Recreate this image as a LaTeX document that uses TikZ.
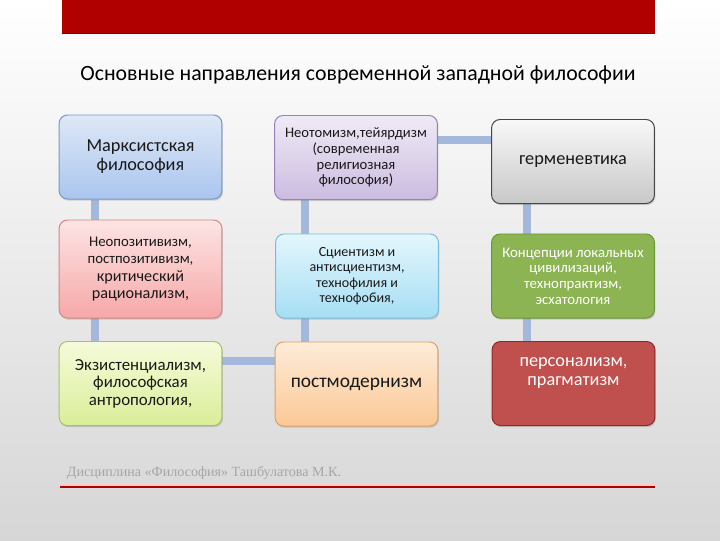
\documentclass[tikz,border=0pt]{standalone}
\usepackage{fontspec}
\setmainfont{Carlito}
\newfontfamily\footfont{Liberation Serif}
\usetikzlibrary{positioning,calc,shadows,backgrounds}
\definecolor{bandred}{RGB}{176,0,0}
\definecolor{linkblue}{RGB}{163,184,218}
\definecolor{bluetop}{RGB}{222,232,247}\definecolor{bluebot}{RGB}{170,197,238}\definecolor{blueline}{RGB}{120,152,200}
\definecolor{pinktop}{RGB}{253,228,228}\definecolor{pinkbot}{RGB}{246,168,168}\definecolor{pinkline}{RGB}{214,132,132}
\definecolor{limetop}{RGB}{245,251,218}\definecolor{limebot}{RGB}{218,238,152}\definecolor{limeline}{RGB}{166,194,100}
\definecolor{lilactop}{RGB}{240,234,246}\definecolor{lilacbot}{RGB}{203,188,224}\definecolor{lilacline}{RGB}{150,130,180}
\definecolor{cyantop}{RGB}{228,246,252}\definecolor{cyanbot}{RGB}{166,222,244}\definecolor{cyanline}{RGB}{120,190,220}
\definecolor{peachtop}{RGB}{254,236,216}\definecolor{peachbot}{RGB}{251,200,150}\definecolor{peachline}{RGB}{222,160,104}
\definecolor{greytop}{RGB}{248,248,248}\definecolor{greybot}{RGB}{200,200,200}\definecolor{greyline}{RGB}{70,70,70}
\definecolor{leaf}{RGB}{140,180,82}\definecolor{leafline}{RGB}{108,150,52}
\definecolor{brick}{RGB}{192,80,77}\definecolor{brickline}{RGB}{140,44,42}
\begin{document}
\begin{tikzpicture}[x=0.025cm,y=-0.025cm,
    box/.style={rounded corners=6pt, draw, line width=0.7pt, align=center,
      minimum width=4.07cm, minimum height=2.1cm, inner sep=2pt, text=black!90,
      drop shadow={opacity=0.3, shadow xshift=0.7pt, shadow yshift=-1.2pt}},
    link/.style={linkblue, line width=5.7pt},
    big/.style={font=\fontsize{13}{13.5}\selectfont},
    small/.style={font=\fontsize{10}{11}\selectfont}]
    \useasboundingbox (0,0) rectangle (720,540);
    \begin{scope}[on background layer]
        \shade[top color=white, middle color=gray!8, bottom color=gray!32] (0,0) rectangle (720,540);
    \end{scope}
    \fill[bandred] (62,0) rectangle (655,34);
    \draw[bandred!70!black, line width=0.8pt] (62,33.5) -- (655,33.5);
    \node (title) at (358,75) {\fontsize{15.5}{18}\selectfont Основные направления современной западной философии};

    \node[box, big, draw=blueline, top color=bluetop, bottom color=bluebot] (marx) at (140.5,157) {Марксистская\\философия};
    \node[box, draw=pinkline, top color=pinktop, bottom color=pinkbot, minimum height=2.45cm] (neopos) at (140.5,269)
        {\fontsize{10.5}{11.5}\selectfont Неопозитивизм,\\ \fontsize{10.5}{14}\selectfont постпозитивизм,\\[1pt]
         \fontsize{11.5}{12}\selectfont критический\\ \fontsize{11.5}{12}\selectfont рационализм,};
    \node[box, draw=limeline, top color=limetop, bottom color=limebot, font=\fontsize{12}{12.5}\selectfont] (exist) at (140.5,383.5)
        {Экзистенциализм,\\философская\\антропология,};

    \node[box, draw=lilacline, top color=lilactop, bottom color=lilacbot, font=\fontsize{10.4}{11.2}\selectfont] (neotom) at (356,157.5)
        {Неотомизм,тейярдизм\\(современная\\религиозная\\философия)};
    \node[box, small, draw=cyanline, top color=cyantop, bottom color=cyanbot] (scient) at (357,276)
        {Сциентизм и\\антисциентизм,\\технофилия и\\технофобия,};
    \node[box, draw=peachline, top color=peachtop, bottom color=peachbot, font=\fontsize{13.8}{14}\selectfont] (postmod) at (356.5,384)
        {постмодернизм};

    \node[box, big, draw=greyline, top color=greytop, bottom color=greybot] (herm) at (573,161.5) {герменевтика};
    \node[box, draw=leafline, fill=leaf, text=white, font=\fontsize{10.5}{11.2}\selectfont] (concept) at (573,276)
        {Концепции локальных\\цивилизаций,\\технопрактизм,\\эсхатология};
    \node[box, big, draw=brickline, fill=brick, text=white] (person) at (573.5,383.5)
        {персонализм,\\прагматизм\\[3pt]};

    \begin{scope}[on background layer]
        \draw[link] ($(marx.south west)+(36,0)$) -- ($(exist.north west)+(36,0)$);
        \draw[link] ($(exist.north east)+(0,20)$) -| ($(neotom.south west)+(31,0)$);
        \draw[link] ($(neotom.north east)+(0,25)$) -| ($(person.north west)+(35,0)$);
    \end{scope}

    \node[anchor=base west, text=gray!70, font=\footfont\fontsize{10}{12}\selectfont] (foot) at (62,476)
        {Дисциплина «Философия» Ташбулатова М.К.};
    \draw[red!20, line width=0.4pt] (60,484) -- (655,484);
    \draw[bandred, line width=1.5pt] (60,487) -- (655,487);
\end{tikzpicture}
\end{document}
